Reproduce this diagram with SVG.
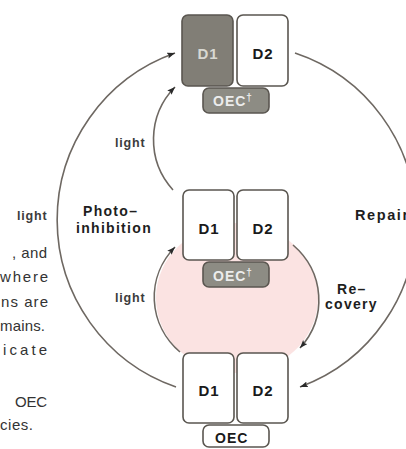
<svg xmlns="http://www.w3.org/2000/svg" width="406" height="449" viewBox="0 0 406 449">
<style>
.box{stroke:#5a5650;stroke-width:1.6}
.w{fill:#ffffff}
.dk{fill:#817e76}
.oecd{fill:#8d8c84}
.arc{fill:none;stroke:#6e6862;stroke-width:1.6}
.lbl{font-family:"Liberation Sans",Arial,sans-serif;font-weight:bold;font-size:14px;letter-spacing:1.3px;fill:#1e1e1e}
.lt{font-family:"Liberation Sans",Arial,sans-serif;font-weight:bold;font-size:12.5px;letter-spacing:0.8px;fill:#3c3c3c}
.dt{font-family:"Liberation Sans",Arial,sans-serif;font-weight:bold;font-size:15px;letter-spacing:1px;fill:#1a1a1a;text-anchor:middle}
.ot{font-family:"Liberation Sans",Arial,sans-serif;font-weight:bold;font-size:14px;letter-spacing:1px}
.side{font-family:"Liberation Sans",Arial,sans-serif;font-size:15px;fill:#333333}
</style>
<defs>
<marker id="ah" markerUnits="userSpaceOnUse" markerWidth="9" markerHeight="7" refX="8" refY="3" orient="auto">
<path d="M0,0 L8,3 L0,6 L1.5,3 z" fill="#2a2a2a"/>
</marker>
</defs>

<!-- partial side text -->
<g id="side-text">
<text class="side" x="12" y="258" textLength="35" lengthAdjust="spacing">, and</text>
<text class="side" x="0" y="282" textLength="48" lengthAdjust="spacing">where</text>
<text class="side" x="1" y="307" textLength="47" lengthAdjust="spacing">ns are</text>
<text class="side" x="0" y="331" textLength="45" lengthAdjust="spacing">mains.</text>
<text class="side" x="3" y="355" textLength="44" lengthAdjust="spacing">icate</text>
<text class="side" x="15" y="407" textLength="32" lengthAdjust="spacing">OEC</text>
<text class="side" x="0" y="430" textLength="33" lengthAdjust="spacing">cies.</text>
</g>

<!-- pink recovery region -->
<ellipse id="recovery-region" cx="237" cy="298" rx="81" ry="75" fill="#fbe3e2"/>

<g id="connectors">
<path class="arc" d="M176,387 A177,177 0 0 1 175,53" marker-end="url(#ah)"/>
<path class="arc" d="M295,53 A177,177 0 0 1 300,387" marker-end="url(#ah)"/>
<path class="arc" d="M173,190 A75,75 0 0 1 175,87" marker-end="url(#ah)"/>
<path class="arc" d="M180,352 A81,75 0 0 1 175,247" marker-end="url(#ah)"/>
<path class="arc" d="M293,245 A81,75 0 0 1 300,348" marker-end="url(#ah)"/>
</g>

<g id="labels">
<text class="lt" x="17" y="220">light</text>
<text class="lt" x="115" y="147">light</text>
<text class="lt" x="115" y="302">light</text>
<text class="lbl" x="83" y="216">Photo–</text>
<text class="lbl" x="76" y="233">inhibition</text>
<text class="lbl" x="355" y="220" style="font-size:14.5px;letter-spacing:1.6px">Repair</text>
<text class="lbl" x="337" y="294">Re–</text>
<text class="lbl" x="325" y="309">covery</text>
</g>

<g id="top-complex">
<rect class="box dk" x="182" y="15" width="51" height="71" rx="6"/>
<rect class="box w" x="237" y="15" width="51" height="71" rx="6"/>
<text class="dt" x="208" y="59" style="fill:#d8d8d2">D1</text>
<text class="dt" x="263" y="59">D2</text>
<rect class="box oecd" x="203" y="88" width="66" height="25" rx="6"/>
<text class="ot" x="213" y="106" fill="#ececec">OEC<tspan font-size="10" dy="-5">†</tspan></text>
</g>

<g id="middle-complex">
<rect class="box w" x="183" y="190" width="51" height="70" rx="6"/>
<rect class="box w" x="237" y="190" width="51" height="70" rx="6"/>
<text class="dt" x="209" y="234">D1</text>
<text class="dt" x="263" y="234">D2</text>
<rect class="box oecd" x="203" y="262" width="66" height="25" rx="6"/>
<text class="ot" x="213" y="281" fill="#ececec">OEC<tspan font-size="10" dy="-5">†</tspan></text>
</g>

<g id="bottom-complex">
<rect class="box w" x="183" y="353" width="51" height="70" rx="6"/>
<rect class="box w" x="237" y="353" width="51" height="70" rx="6"/>
<text class="dt" x="209" y="396">D1</text>
<text class="dt" x="263" y="396">D2</text>
<rect class="box w" x="203" y="425" width="66" height="22" rx="6"/>
<text class="ot" x="215" y="443" fill="#1a1a1a">OEC</text>
</g>
</svg>
